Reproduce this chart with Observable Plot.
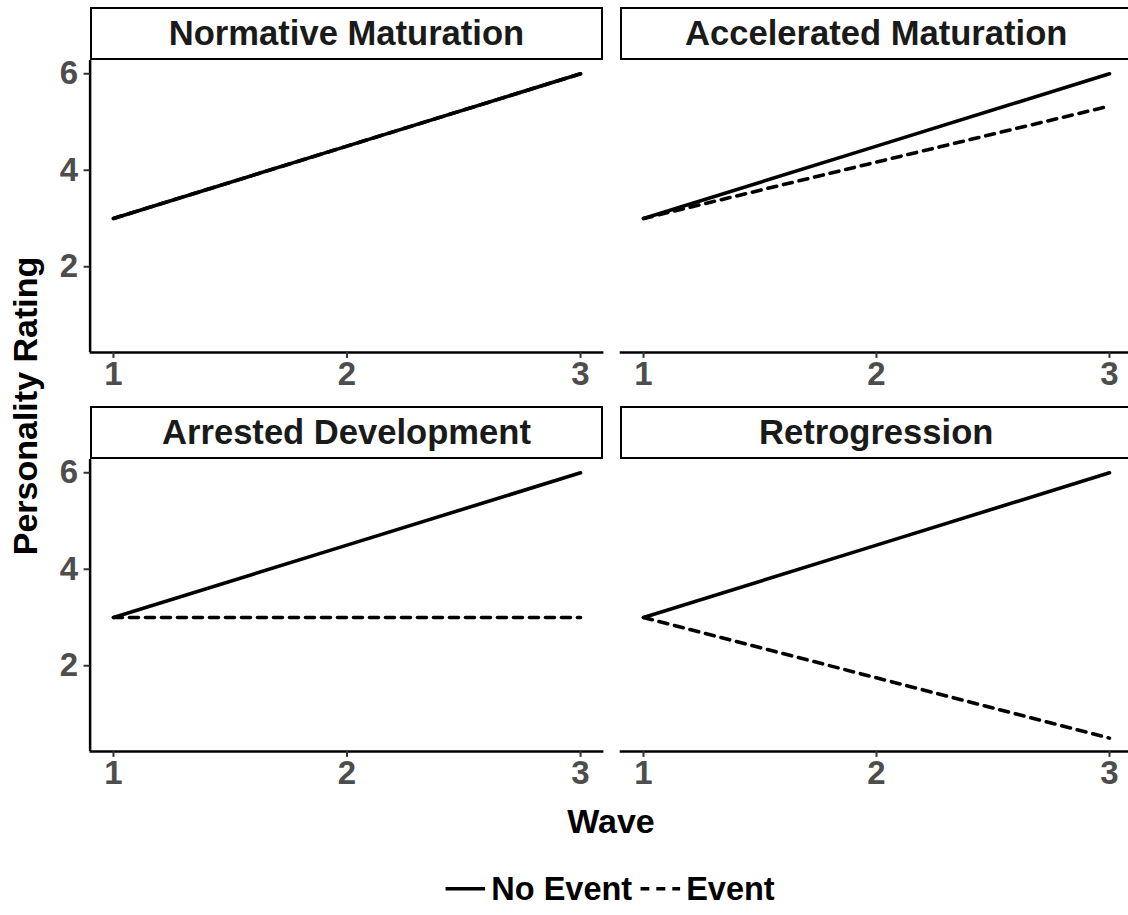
<!DOCTYPE html>
<html><head><meta charset="utf-8">
<script src="https://cdn.jsdelivr.net/npm/d3@7"></script>
<script src="https://cdn.jsdelivr.net/npm/@observablehq/plot@0.6"></script>
<style>
html,body{margin:0;padding:0;background:#fff;overflow:hidden}
#chart{position:relative;width:1128px;height:915px;overflow:hidden;font-family:"Liberation Sans",Arial,Helvetica,sans-serif;background:#fff}
.panel{position:absolute}
.panel svg{overflow:visible;max-width:none}
.panel text{font-weight:bold}
.strip{position:absolute;box-sizing:border-box;border:2.5px solid #000;background:#fff;display:flex;align-items:center;justify-content:center;font-weight:bold;font-size:34.6px;color:#1a1a1a;white-space:nowrap}
.lbl{position:absolute;font-weight:bold;font-size:34px;color:#000;white-space:nowrap;line-height:1;transform:translate(-50%,-50%)}
.legend{position:absolute;display:flex;align-items:center;transform:translate(-50%,-50%);font-weight:bold;font-size:32.5px;color:#000;white-space:nowrap;line-height:1}
.legend svg{display:block}
</style></head>
<body><div id="chart"></div>
<script>
// ---- data ----
const panelNames = ["Normative Maturation", "Accelerated Maturation", "Arrested Development", "Retrogression"];
const waves = [1, 2, 3];
const groups = ["No Event", "Event"];
const noEventValues = [[3, 4.5, 6], [3, 4.5, 6], [3, 4.5, 6], [3, 4.5, 6]];
const eventValues = [[3, 4.5, 6], [3, 4.17, 5.33], [3, 3, 3], [3, 1.75, 0.5]];
const xTicks = [1, 2, 3];
const yTicks = [2, 4, 6];
const xTitle = "Wave";
const yTitle = "Personality Rating";

const rows = [];
panelNames.forEach((p, i) => {
  waves.forEach((w, j) => {
    rows.push({panel: p, wave: w, value: noEventValues[i][j], group: groups[0]});
    rows.push({panel: p, wave: w, value: eventValues[i][j], group: groups[1]});
  });
});
function expand([a, b]) { const d = (b - a) * 0.05; return [a - d, b + d]; }
const xDomain = expand(d3.extent(waves));
const yDomain = expand(d3.extent(rows, d => d.value));

// ---- layout ----
const chart = document.getElementById("chart");
const font = "Liberation Sans, Arial, Helvetica, sans-serif";
const cols = [
  {svgLeft: 0, width: 610, marginLeft: 89.6, marginRight: 6.6, stripLeft: 89.6, stripWidth: 513.8},
  {svgLeft: 610, width: 530, marginLeft: 9.7, marginRight: 7.7, stripLeft: 619.7, stripWidth: 513}
];
const rowsPos = [{panelTop: 59.7, stripTop: 7}, {panelTop: 458.7, stripTop: 406}];
const panelH = 291.9, padTop = 12, padBottom = 60;

panelNames.forEach((p, i) => {
  const c = cols[i % 2], r = rowsPos[Math.floor(i / 2)];
  const data = rows.filter(d => d.panel === p);
  const marks = [
    Plot.ruleY([yDomain[0]], {stroke: "#000", strokeWidth: 2.5}),
    Plot.axisX({ticks: xTicks, tickSize: 6, tickPadding: 3, tickFormat: d => String(d), fontSize: 33, fontWeight: "bold", fill: "#4d4d4d", stroke: "#333", strokeWidth: 2, label: null})
  ];
  if (i % 2 === 0) {
    marks.push(
      Plot.ruleX([xDomain[0]], {stroke: "#000", strokeWidth: 2.5}),
      Plot.axisY({ticks: yTicks, tickSize: 6, tickPadding: 6, tickFormat: d => String(d), fontSize: 33, fontWeight: "bold", fill: "#4d4d4d", stroke: "#333", strokeWidth: 2, label: null})
    );
  }
  marks.push(
    Plot.line(data.filter(d => d.group === groups[0]), {x: "wave", y: "value", stroke: "#000", strokeWidth: 3.6}),
    Plot.line(data.filter(d => d.group === groups[1]), {x: "wave", y: "value", stroke: "#000", strokeWidth: 3.6, strokeDasharray: "9,7"})
  );
  const svg = Plot.plot({
    width: c.width,
    height: padTop + panelH + padBottom,
    marginLeft: c.marginLeft, marginRight: c.marginRight,
    marginTop: padTop, marginBottom: padBottom,
    x: {domain: xDomain, label: null},
    y: {domain: yDomain, label: null, axis: i % 2 === 0 ? undefined : null},
    style: {fontFamily: font, background: "transparent", overflow: "visible"},
    marks
  });
  const wrap = document.createElement("div");
  wrap.className = "panel";
  wrap.style.left = c.svgLeft + "px";
  wrap.style.top = (r.panelTop - padTop) + "px";
  wrap.appendChild(svg);
  chart.appendChild(wrap);

  const strip = document.createElement("div");
  strip.className = "strip";
  strip.style.left = c.stripLeft + "px";
  strip.style.top = r.stripTop + "px";
  strip.style.width = c.stripWidth + "px";
  strip.style.height = (r.panelTop - r.stripTop) + "px";
  strip.textContent = p;
  chart.appendChild(strip);
});

// titles
const yl = document.createElement("div");
yl.className = "lbl";
yl.style.left = "25px"; yl.style.top = "406px";
yl.style.transform = "translate(-50%,-50%) rotate(-90deg)";
yl.textContent = yTitle;
chart.appendChild(yl);

const xl = document.createElement("div");
xl.className = "lbl";
xl.style.left = "611px"; xl.style.top = "821px";
xl.textContent = xTitle;
chart.appendChild(xl);

// legend
const lg = document.createElement("div");
lg.className = "legend";
lg.style.left = "610px"; lg.style.top = "889px";
const dashes = [null, "9,7"];
groups.forEach((g, k) => {
  const ns = "http://www.w3.org/2000/svg";
  const s = document.createElementNS(ns, "svg");
  s.setAttribute("width", 40); s.setAttribute("height", 12);
  s.style.marginLeft = k === 0 ? "0" : "8px";
  s.style.marginRight = "6px";
  const ln = document.createElementNS(ns, "line");
  ln.setAttribute("x1", 0); ln.setAttribute("x2", 40);
  ln.setAttribute("y1", 6); ln.setAttribute("y2", 6);
  ln.setAttribute("stroke", "#000"); ln.setAttribute("stroke-width", 3.6);
  if (dashes[k]) ln.setAttribute("stroke-dasharray", dashes[k]);
  s.appendChild(ln);
  lg.appendChild(s);
  const t = document.createElement("span");
  t.textContent = g;
  lg.appendChild(t);
});
chart.appendChild(lg);
</script>
</body></html>
